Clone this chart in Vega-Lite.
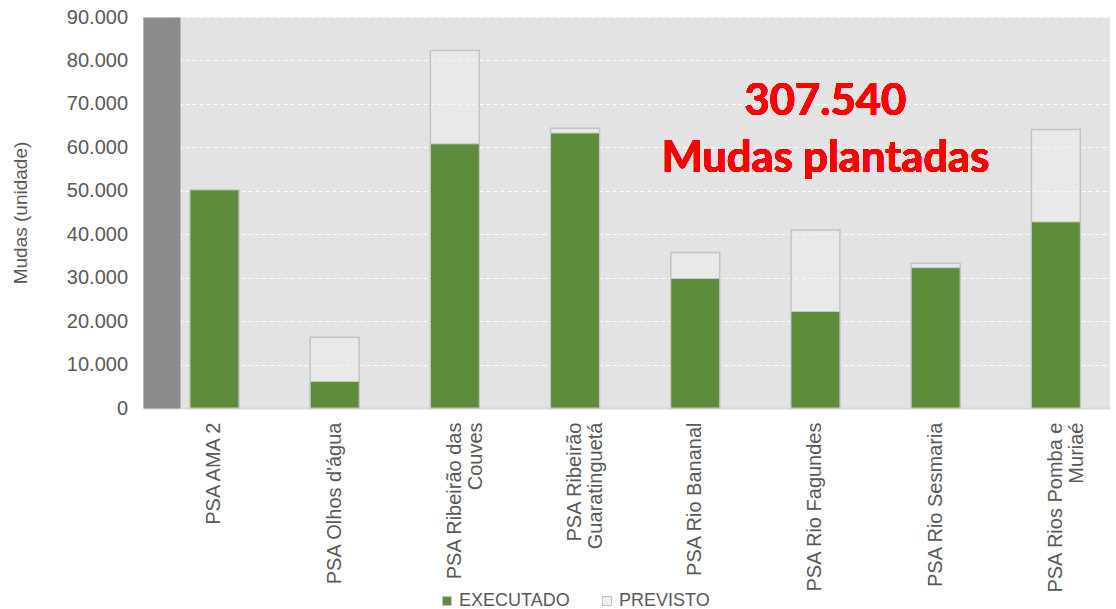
{
  "$schema": "https://vega.github.io/schema/vega-lite/v6.json",
  "width": 967,
  "height": 391,
  "autosize": {"type": "none"},
  "padding": {"left": 143, "top": 17, "right": 6, "bottom": 201},
  "background": "white",
  "config": {
    "locale": {"number": {"decimal": ",", "thousands": ".", "grouping": [3], "currency": ["R$", ""]}},
    "view": {"fill": "#e3e3e3", "stroke": null},
    "font": "Liberation Sans",
    "legend": {
      "labelFontSize": 18,
      "labelColor": "#595959",
      "symbolType": "square",
      "symbolSize": 80,
      "symbolStrokeWidth": 1,
      "symbolStrokeColor": "#c4c4c4",
      "columnPadding": 28,
      "labelOffset": 3
    }
  },
  "data": {
    "values": [
      {"projeto": "PSA AMA 2", "serie": "EXECUTADO", "valor": 50200},
      {"projeto": "PSA AMA 2", "serie": "PREVISTO", "valor": 50200},
      {"projeto": "PSA Olhos d'água", "serie": "EXECUTADO", "valor": 6100},
      {"projeto": "PSA Olhos d'água", "serie": "PREVISTO", "valor": 16300},
      {"projeto": "PSA Ribeirão das Couves", "serie": "EXECUTADO", "valor": 60800},
      {"projeto": "PSA Ribeirão das Couves", "serie": "PREVISTO", "valor": 82300},
      {"projeto": "PSA Ribeirão Guaratinguetá", "serie": "EXECUTADO", "valor": 63300},
      {"projeto": "PSA Ribeirão Guaratinguetá", "serie": "PREVISTO", "valor": 64400},
      {"projeto": "PSA Rio Bananal", "serie": "EXECUTADO", "valor": 29800},
      {"projeto": "PSA Rio Bananal", "serie": "PREVISTO", "valor": 35800},
      {"projeto": "PSA Rio Fagundes", "serie": "EXECUTADO", "valor": 22200},
      {"projeto": "PSA Rio Fagundes", "serie": "PREVISTO", "valor": 41000},
      {"projeto": "PSA Rio Sesmaria", "serie": "EXECUTADO", "valor": 32300},
      {"projeto": "PSA Rio Sesmaria", "serie": "PREVISTO", "valor": 33300},
      {"projeto": "PSA Rios Pomba e Muriaé", "serie": "EXECUTADO", "valor": 42840},
      {"projeto": "PSA Rios Pomba e Muriaé", "serie": "PREVISTO", "valor": 64100}
    ]
  },
  "layer": [
    {
      "transform": [{"filter": "datum.serie === 'PREVISTO'"}],
      "mark": {"type": "bar", "stroke": "#c4c4c4", "strokeWidth": 1.5, "fillOpacity": 0.5},
      "encoding": {
        "x": {
          "field": "projeto",
          "type": "nominal",
          "sort": null,
          "scale": {"paddingInner": 0.593, "paddingOuter": 0.319, "align": 0.613},
          "axis": {
            "title": null,
            "labelAngle": -90,
            "labelFontSize": 20,
            "labelColor": "#595959",
            "labelPadding": 14,
            "labelLineHeight": 21,
            "labelLimit": 300,
            "ticks": false,
            "domainColor": "#d9d9d9",
            "domainWidth": 2,
            "grid": false,
            "labelExpr": "datum.value == 'PSA Ribeirão das Couves' ? ['PSA Ribeirão das', 'Couves'] : datum.value == 'PSA Ribeirão Guaratinguetá' ? ['PSA Ribeirão', 'Guaratinguetá'] : datum.value == 'PSA Rios Pomba e Muriaé' ? ['PSA Rios Pomba e', 'Muriaé'] : datum.label"
          }
        },
        "y": {
          "field": "valor",
          "type": "quantitative",
          "stack": null,
          "scale": {"domain": [0, 90000], "nice": false},
          "axis": {
            "title": "Mudas (unidade)",
            "titleFontSize": 19,
            "titleFontWeight": "normal",
            "titleColor": "#595959",
            "titlePadding": 36,
            "values": [0, 10000, 20000, 30000, 40000, 50000, 60000, 70000, 80000, 90000],
            "format": ",d",
            "labelFontSize": 20,
            "labelColor": "#595959",
            "labelPadding": 34,
            "ticks": false,
            "offset": -18.5,
            "domainColor": "#8c8c8c",
            "domainWidth": 37,
            "grid": true,
            "gridColor": "#ffffff",
            "gridDash": [4, 3],
            "gridWidth": 1
          }
        },
        "color": {
          "field": "serie",
          "type": "nominal",
          "scale": {"domain": ["EXECUTADO", "PREVISTO"], "range": ["#5d8c3d", "#efefef"]},
          "legend": {"title": null, "orient": "none", "direction": "horizontal", "legendX": 295, "legendY": 575}
        }
      }
    },
    {
      "transform": [{"filter": "datum.serie === 'EXECUTADO'"}],
      "mark": {"type": "bar", "stroke": "#c8c8c8", "strokeWidth": 1},
      "encoding": {
        "x": {"field": "projeto", "type": "nominal", "sort": null},
        "y": {"field": "valor", "type": "quantitative", "stack": null},
        "color": {"field": "serie", "type": "nominal"}
      }
    },
    {
      "mark": {
        "type": "text",
        "font": "Lato",
        "fontWeight": "bold",
        "fontSize": 43.5,
        "color": "#ff0000",
        "lineHeight": 57,
        "align": "center",
        "baseline": "middle",
        "dx": 10
      },
      "encoding": {
        "x": {"datum": "PSA Rio Fagundes"},
        "y": {"datum": 70500},
        "text": {"value": ["307.540", "Mudas plantadas"]}
      }
    }
  ]
}
